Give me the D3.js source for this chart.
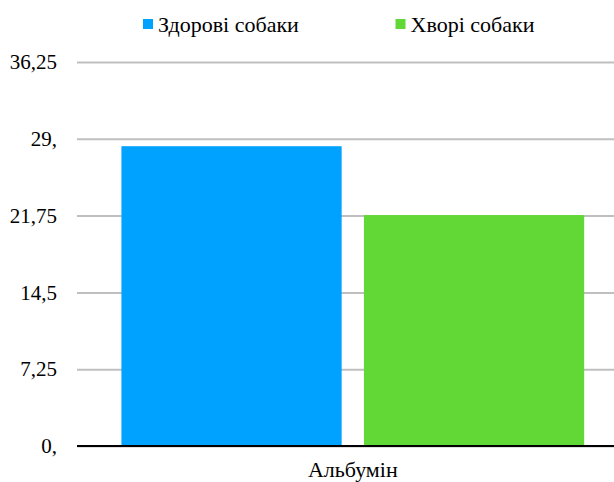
<!DOCTYPE html>
<html>
<head>
<meta charset="utf-8">
<script src="https://cdn.jsdelivr.net/npm/d3@7"></script>
<style>
  body { margin: 0; background: #fff; }
</style>
</head>
<body>
<div id="chart"></div>
<script>
var categories = ["Альбумін"];
var seriesNames = ["Здорові собаки", "Хворі собаки"];
var seriesValues = [28.3, 21.8];
var seriesColors = ["#00a2ff", "#61d836"];
var tickValues = [0, 7.25, 14.5, 21.75, 29, 36.25];
var tickLabels = ["0,", "7,25", "14,5", "21,75", "29,", "36,25"];

var width = 614, height = 482,
    margin = {top: 62, right: -14.6, bottom: 36, left: 77},
    font = "'Liberation Serif'";

var svg = d3.select("#chart")
  .append("svg")
    .attr("width", width)
    .attr("height", height);

var y = d3.scaleLinear()
    .domain([0, 36.25])
    .range([height - margin.bottom, margin.top]);

var x0 = d3.scaleBand()
    .domain(categories)
    .range([margin.left, width - margin.right])
    .paddingOuter(0.096);

var x1 = d3.scaleBand()
    .domain(seriesNames)
    .range([0, x0.bandwidth()])
    .paddingInner(0.092);

// gridlines + tick labels
var yAxis = d3.axisLeft(y)
    .tickValues(tickValues)
    .tickSize(-(width - margin.left))
    .tickFormat(function(d, i) { return tickLabels[i]; });

var ga = svg.append("g")
    .attr("transform", "translate(" + margin.left + ",0)")
    .call(yAxis);
ga.select(".domain").remove();
ga.selectAll(".tick line")
    .attr("stroke", "#bfbfbf")
    .attr("stroke-width", 2);
ga.selectAll(".tick text")
    .attr("x", -20)
    .attr("fill", "#000")
    .style("font-family", font)
    .style("font-size", "21px");

// bars
var g = svg.append("g");
categories.forEach(function(c) {
  g.selectAll(".bar")
    .data(seriesValues)
  .enter().append("rect")
    .attr("x", function(d, i) { return x0(c) + x1(seriesNames[i]); })
    .attr("y", function(d) { return y(d); })
    .attr("width", x1.bandwidth())
    .attr("height", function(d) { return y(0) - y(d); })
    .style("fill", function(d, i) { return seriesColors[i]; });
});

// baseline
svg.append("line")
    .attr("x1", margin.left)
    .attr("x2", width)
    .attr("y1", y(0))
    .attr("y2", y(0))
    .attr("stroke", "#000")
    .attr("stroke-width", 2);

// category label
svg.selectAll(".cat")
    .data(categories)
  .enter().append("text")
    .attr("x", function(d) { return x0(d) + x0.bandwidth() / 2; })
    .attr("y", 477)
    .attr("text-anchor", "middle")
    .style("font-family", font)
    .style("font-size", "22px")
    .text(function(d) { return d; });

// legend
var legendX = [143, 395.5];
var leg = svg.selectAll(".legend")
    .data(seriesNames)
  .enter().append("g")
    .attr("transform", function(d, i) { return "translate(" + legendX[i] + ",0)"; });
leg.append("rect")
    .attr("y", 19)
    .attr("width", 10)
    .attr("height", 10)
    .style("fill", function(d, i) { return seriesColors[i]; });
leg.append("text")
    .attr("x", 15)
    .attr("y", 32)
    .style("font-family", font)
    .style("font-size", "22px")
    .text(function(d) { return d; });
</script>
</body>
</html>
